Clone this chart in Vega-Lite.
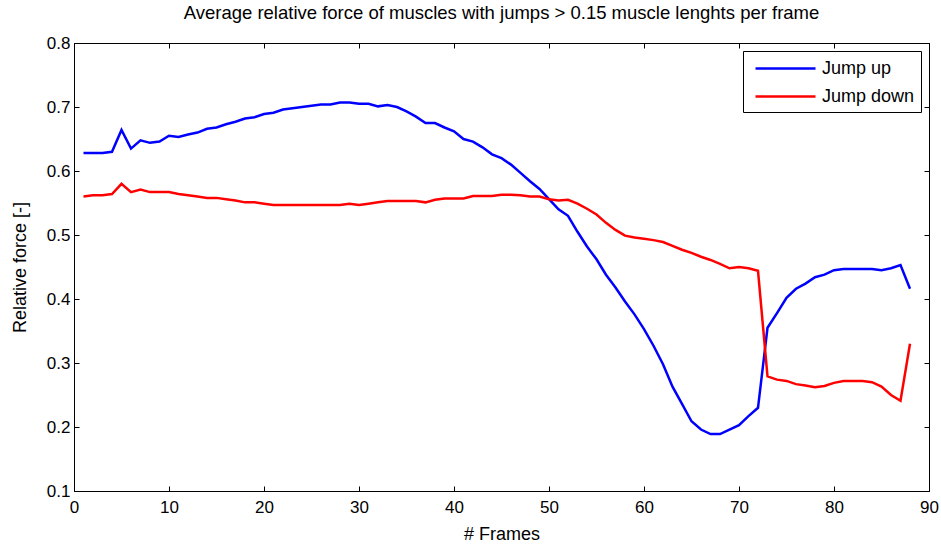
{
  "$schema": "https://vega.github.io/schema/vega-lite/v6.json",
  "width": 855,
  "height": 448,
  "autosize": {"type": "none"},
  "padding": {"left": 74, "top": 43, "right": 12, "bottom": 54},
  "background": "white",
  "config": {
    "font": "Liberation Sans",
    "view": {"stroke": "#000000", "strokeWidth": 1},
    "axis": {
      "domainColor": "#000000",
      "tickColor": "#000000",
      "labelColor": "#000000",
      "titleColor": "#000000",
      "labelFont": "Liberation Sans",
      "titleFont": "Liberation Sans",
      "labelFontSize": 17,
      "titleFontSize": 18,
      "titleFontWeight": "normal",
      "grid": false,
      "tickSize": -5
    }
  },
  "title": {
    "text": "Average relative force of muscles with jumps > 0.15 muscle lenghts per frame",
    "font": "Liberation Sans",
    "fontSize": 18.5,
    "fontWeight": "normal",
    "color": "#000000",
    "anchor": "middle",
    "offset": 12
  },
  "data": {
    "values": [
      {"frame": 1, "value": 0.628, "series": "Jump up"},
      {"frame": 2, "value": 0.628, "series": "Jump up"},
      {"frame": 3, "value": 0.628, "series": "Jump up"},
      {"frame": 4, "value": 0.630, "series": "Jump up"},
      {"frame": 5, "value": 0.664, "series": "Jump up"},
      {"frame": 6, "value": 0.635, "series": "Jump up"},
      {"frame": 7, "value": 0.648, "series": "Jump up"},
      {"frame": 8, "value": 0.644, "series": "Jump up"},
      {"frame": 9, "value": 0.646, "series": "Jump up"},
      {"frame": 10, "value": 0.655, "series": "Jump up"},
      {"frame": 11, "value": 0.653, "series": "Jump up"},
      {"frame": 12, "value": 0.657, "series": "Jump up"},
      {"frame": 13, "value": 0.660, "series": "Jump up"},
      {"frame": 14, "value": 0.666, "series": "Jump up"},
      {"frame": 15, "value": 0.668, "series": "Jump up"},
      {"frame": 16, "value": 0.673, "series": "Jump up"},
      {"frame": 17, "value": 0.677, "series": "Jump up"},
      {"frame": 18, "value": 0.682, "series": "Jump up"},
      {"frame": 19, "value": 0.684, "series": "Jump up"},
      {"frame": 20, "value": 0.689, "series": "Jump up"},
      {"frame": 21, "value": 0.691, "series": "Jump up"},
      {"frame": 22, "value": 0.696, "series": "Jump up"},
      {"frame": 23, "value": 0.698, "series": "Jump up"},
      {"frame": 24, "value": 0.700, "series": "Jump up"},
      {"frame": 25, "value": 0.702, "series": "Jump up"},
      {"frame": 26, "value": 0.704, "series": "Jump up"},
      {"frame": 27, "value": 0.704, "series": "Jump up"},
      {"frame": 28, "value": 0.707, "series": "Jump up"},
      {"frame": 29, "value": 0.707, "series": "Jump up"},
      {"frame": 30, "value": 0.705, "series": "Jump up"},
      {"frame": 31, "value": 0.705, "series": "Jump up"},
      {"frame": 32, "value": 0.701, "series": "Jump up"},
      {"frame": 33, "value": 0.703, "series": "Jump up"},
      {"frame": 34, "value": 0.700, "series": "Jump up"},
      {"frame": 35, "value": 0.693, "series": "Jump up"},
      {"frame": 36, "value": 0.685, "series": "Jump up"},
      {"frame": 37, "value": 0.675, "series": "Jump up"},
      {"frame": 38, "value": 0.675, "series": "Jump up"},
      {"frame": 39, "value": 0.668, "series": "Jump up"},
      {"frame": 40, "value": 0.662, "series": "Jump up"},
      {"frame": 41, "value": 0.650, "series": "Jump up"},
      {"frame": 42, "value": 0.646, "series": "Jump up"},
      {"frame": 43, "value": 0.637, "series": "Jump up"},
      {"frame": 44, "value": 0.626, "series": "Jump up"},
      {"frame": 45, "value": 0.620, "series": "Jump up"},
      {"frame": 46, "value": 0.610, "series": "Jump up"},
      {"frame": 47, "value": 0.597, "series": "Jump up"},
      {"frame": 48, "value": 0.584, "series": "Jump up"},
      {"frame": 49, "value": 0.572, "series": "Jump up"},
      {"frame": 50, "value": 0.556, "series": "Jump up"},
      {"frame": 51, "value": 0.540, "series": "Jump up"},
      {"frame": 52, "value": 0.530, "series": "Jump up"},
      {"frame": 53, "value": 0.505, "series": "Jump up"},
      {"frame": 54, "value": 0.482, "series": "Jump up"},
      {"frame": 55, "value": 0.462, "series": "Jump up"},
      {"frame": 56, "value": 0.438, "series": "Jump up"},
      {"frame": 57, "value": 0.418, "series": "Jump up"},
      {"frame": 58, "value": 0.396, "series": "Jump up"},
      {"frame": 59, "value": 0.376, "series": "Jump up"},
      {"frame": 60, "value": 0.353, "series": "Jump up"},
      {"frame": 61, "value": 0.327, "series": "Jump up"},
      {"frame": 62, "value": 0.298, "series": "Jump up"},
      {"frame": 63, "value": 0.263, "series": "Jump up"},
      {"frame": 64, "value": 0.236, "series": "Jump up"},
      {"frame": 65, "value": 0.209, "series": "Jump up"},
      {"frame": 66, "value": 0.196, "series": "Jump up"},
      {"frame": 67, "value": 0.189, "series": "Jump up"},
      {"frame": 68, "value": 0.189, "series": "Jump up"},
      {"frame": 69, "value": 0.196, "series": "Jump up"},
      {"frame": 70, "value": 0.203, "series": "Jump up"},
      {"frame": 71, "value": 0.217, "series": "Jump up"},
      {"frame": 72, "value": 0.230, "series": "Jump up"},
      {"frame": 73, "value": 0.355, "series": "Jump up"},
      {"frame": 74, "value": 0.378, "series": "Jump up"},
      {"frame": 75, "value": 0.402, "series": "Jump up"},
      {"frame": 76, "value": 0.416, "series": "Jump up"},
      {"frame": 77, "value": 0.424, "series": "Jump up"},
      {"frame": 78, "value": 0.434, "series": "Jump up"},
      {"frame": 79, "value": 0.438, "series": "Jump up"},
      {"frame": 80, "value": 0.445, "series": "Jump up"},
      {"frame": 81, "value": 0.447, "series": "Jump up"},
      {"frame": 82, "value": 0.447, "series": "Jump up"},
      {"frame": 83, "value": 0.447, "series": "Jump up"},
      {"frame": 84, "value": 0.447, "series": "Jump up"},
      {"frame": 85, "value": 0.445, "series": "Jump up"},
      {"frame": 86, "value": 0.448, "series": "Jump up"},
      {"frame": 87, "value": 0.453, "series": "Jump up"},
      {"frame": 88, "value": 0.416, "series": "Jump up"},
      {"frame": 1, "value": 0.560, "series": "Jump down"},
      {"frame": 2, "value": 0.562, "series": "Jump down"},
      {"frame": 3, "value": 0.562, "series": "Jump down"},
      {"frame": 4, "value": 0.564, "series": "Jump down"},
      {"frame": 5, "value": 0.580, "series": "Jump down"},
      {"frame": 6, "value": 0.567, "series": "Jump down"},
      {"frame": 7, "value": 0.571, "series": "Jump down"},
      {"frame": 8, "value": 0.567, "series": "Jump down"},
      {"frame": 9, "value": 0.567, "series": "Jump down"},
      {"frame": 10, "value": 0.567, "series": "Jump down"},
      {"frame": 11, "value": 0.564, "series": "Jump down"},
      {"frame": 12, "value": 0.562, "series": "Jump down"},
      {"frame": 13, "value": 0.560, "series": "Jump down"},
      {"frame": 14, "value": 0.558, "series": "Jump down"},
      {"frame": 15, "value": 0.558, "series": "Jump down"},
      {"frame": 16, "value": 0.556, "series": "Jump down"},
      {"frame": 17, "value": 0.554, "series": "Jump down"},
      {"frame": 18, "value": 0.551, "series": "Jump down"},
      {"frame": 19, "value": 0.551, "series": "Jump down"},
      {"frame": 20, "value": 0.549, "series": "Jump down"},
      {"frame": 21, "value": 0.547, "series": "Jump down"},
      {"frame": 22, "value": 0.547, "series": "Jump down"},
      {"frame": 23, "value": 0.547, "series": "Jump down"},
      {"frame": 24, "value": 0.547, "series": "Jump down"},
      {"frame": 25, "value": 0.547, "series": "Jump down"},
      {"frame": 26, "value": 0.547, "series": "Jump down"},
      {"frame": 27, "value": 0.547, "series": "Jump down"},
      {"frame": 28, "value": 0.547, "series": "Jump down"},
      {"frame": 29, "value": 0.549, "series": "Jump down"},
      {"frame": 30, "value": 0.547, "series": "Jump down"},
      {"frame": 31, "value": 0.549, "series": "Jump down"},
      {"frame": 32, "value": 0.551, "series": "Jump down"},
      {"frame": 33, "value": 0.553, "series": "Jump down"},
      {"frame": 34, "value": 0.553, "series": "Jump down"},
      {"frame": 35, "value": 0.553, "series": "Jump down"},
      {"frame": 36, "value": 0.553, "series": "Jump down"},
      {"frame": 37, "value": 0.551, "series": "Jump down"},
      {"frame": 38, "value": 0.555, "series": "Jump down"},
      {"frame": 39, "value": 0.557, "series": "Jump down"},
      {"frame": 40, "value": 0.557, "series": "Jump down"},
      {"frame": 41, "value": 0.557, "series": "Jump down"},
      {"frame": 42, "value": 0.561, "series": "Jump down"},
      {"frame": 43, "value": 0.561, "series": "Jump down"},
      {"frame": 44, "value": 0.561, "series": "Jump down"},
      {"frame": 45, "value": 0.563, "series": "Jump down"},
      {"frame": 46, "value": 0.563, "series": "Jump down"},
      {"frame": 47, "value": 0.562, "series": "Jump down"},
      {"frame": 48, "value": 0.560, "series": "Jump down"},
      {"frame": 49, "value": 0.560, "series": "Jump down"},
      {"frame": 50, "value": 0.556, "series": "Jump down"},
      {"frame": 51, "value": 0.554, "series": "Jump down"},
      {"frame": 52, "value": 0.555, "series": "Jump down"},
      {"frame": 53, "value": 0.549, "series": "Jump down"},
      {"frame": 54, "value": 0.541, "series": "Jump down"},
      {"frame": 55, "value": 0.532, "series": "Jump down"},
      {"frame": 56, "value": 0.519, "series": "Jump down"},
      {"frame": 57, "value": 0.508, "series": "Jump down"},
      {"frame": 58, "value": 0.499, "series": "Jump down"},
      {"frame": 59, "value": 0.496, "series": "Jump down"},
      {"frame": 60, "value": 0.494, "series": "Jump down"},
      {"frame": 61, "value": 0.492, "series": "Jump down"},
      {"frame": 62, "value": 0.489, "series": "Jump down"},
      {"frame": 63, "value": 0.483, "series": "Jump down"},
      {"frame": 64, "value": 0.477, "series": "Jump down"},
      {"frame": 65, "value": 0.472, "series": "Jump down"},
      {"frame": 66, "value": 0.466, "series": "Jump down"},
      {"frame": 67, "value": 0.461, "series": "Jump down"},
      {"frame": 68, "value": 0.455, "series": "Jump down"},
      {"frame": 69, "value": 0.448, "series": "Jump down"},
      {"frame": 70, "value": 0.450, "series": "Jump down"},
      {"frame": 71, "value": 0.448, "series": "Jump down"},
      {"frame": 72, "value": 0.444, "series": "Jump down"},
      {"frame": 73, "value": 0.279, "series": "Jump down"},
      {"frame": 74, "value": 0.274, "series": "Jump down"},
      {"frame": 75, "value": 0.272, "series": "Jump down"},
      {"frame": 76, "value": 0.267, "series": "Jump down"},
      {"frame": 77, "value": 0.265, "series": "Jump down"},
      {"frame": 78, "value": 0.262, "series": "Jump down"},
      {"frame": 79, "value": 0.264, "series": "Jump down"},
      {"frame": 80, "value": 0.269, "series": "Jump down"},
      {"frame": 81, "value": 0.272, "series": "Jump down"},
      {"frame": 82, "value": 0.272, "series": "Jump down"},
      {"frame": 83, "value": 0.272, "series": "Jump down"},
      {"frame": 84, "value": 0.270, "series": "Jump down"},
      {"frame": 85, "value": 0.263, "series": "Jump down"},
      {"frame": 86, "value": 0.250, "series": "Jump down"},
      {"frame": 87, "value": 0.241, "series": "Jump down"},
      {"frame": 88, "value": 0.330, "series": "Jump down"}
    ]
  },
  "resolve": {"axis": {"x": "independent", "y": "independent"}},
  "layer": [
    {
      "mark": {"type": "line", "strokeWidth": 2.5},
      "encoding": {
        "x": {
          "field": "frame",
          "type": "quantitative",
          "scale": {"domain": [0, 90], "nice": false, "zero": false},
          "axis": {"orient": "bottom", "values": [0, 10, 20, 30, 40, 50, 60, 70, 80, 90], "title": "# Frames", "labelPadding": 13, "titlePadding": 10, "labelFlush": false}
        },
        "y": {
          "field": "value",
          "type": "quantitative",
          "scale": {"domain": [0.1, 0.8], "nice": false, "zero": false},
          "axis": {"orient": "left", "values": [0.1, 0.2, 0.3, 0.4, 0.5, 0.6, 0.7, 0.8], "format": ".1f", "title": "Relative force [-]", "labelPadding": 9, "titlePadding": 17, "labelFlush": false}
        },
        "color": {
          "field": "series",
          "type": "nominal",
          "scale": {"domain": ["Jump up", "Jump down"], "range": ["#0000ff", "#ff0000"]},
          "legend": {
            "title": null,
            "orient": "none",
            "legendX": 669,
            "legendY": 8,
            "symbolType": "M-0.5,0H5.5",
            "symbolSize": 400,
            "symbolStrokeWidth": 2.5,
            "labelFontSize": 18,
            "labelFont": "Liberation Sans",
            "labelColor": "#000000",
            "labelOffset": 50,
            "rowPadding": 7,
            "padding": 6,
            "strokeColor": "#000000",
            "fillColor": "#ffffff",
            "cornerRadius": 0
          }
        }
      }
    },
    {
      "mark": {"type": "line", "strokeOpacity": 0},
      "encoding": {
        "x": {
          "field": "frame",
          "type": "quantitative",
          "axis": {"orient": "top", "values": [0, 10, 20, 30, 40, 50, 60, 70, 80, 90], "labels": false, "title": null}
        },
        "y": {
          "field": "value",
          "type": "quantitative",
          "axis": {"orient": "right", "values": [0.1, 0.2, 0.3, 0.4, 0.5, 0.6, 0.7, 0.8], "labels": false, "title": null}
        },
        "detail": {"field": "series"}
      }
    }
  ]
}
